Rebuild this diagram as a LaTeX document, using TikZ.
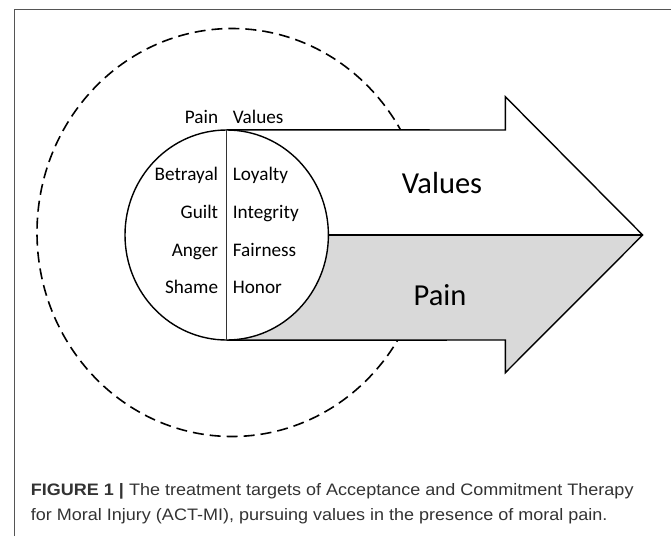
\documentclass[tikz,border=0pt]{standalone}
\usepackage{fontspec}
\setmainfont{Carlito}
\newfontfamily\capfont[FakeStretch=1.085]{Liberation Sans}
\usetikzlibrary{shapes.geometric}
\definecolor{painfill}{HTML}{D9D9D9}
\definecolor{captxt}{HTML}{333333}
\definecolor{framecol}{HTML}{555555}
\tikzset{
  item/.style={inner sep=0pt, font=\fontsize{19.2}{19.2}\selectfont},
  biglabel/.style={inner sep=0pt, font=\fontsize{30.5}{30.5}\selectfont},
  captionline/.style={inner sep=0pt, anchor=base west, text=captxt, font=\capfont\fontsize{16.6}{16.6}\selectfont},
  outline/.style={line width=1.4pt, line join=miter},
}
\begin{document}
\begin{tikzpicture}[x=1pt,y=-1pt]
\useasboundingbox (0,0) rectangle (671,536);
% frame (only left and top edges are inside the picture)
\draw[framecol, line width=1pt] (14.3,536) -- (14.3,9) -- (671,9);
% dashed outer ellipse
\node (halo) [ellipse, draw, dashed, dash pattern=on 11pt off 6pt, line width=1.6pt, inner sep=0pt,
  minimum width=390pt, minimum height=408pt] at (232,232.5) {};
% circle geometry (node drawn later)
\node (core) [ellipse, inner sep=0pt, minimum width=203.4pt, minimum height=210pt] at (226.7,235) {};
% arrow points
\coordinate (shaftTR) at (505.3,130);
\coordinate (headT) at (505.3,96.7);
\coordinate (tip) at (642.7,235);
\coordinate (headB) at (505.3,372.7);
\coordinate (shaftBR) at (505.3,340);
% white arrow body
\fill[white] (core.north) -- (shaftTR) -- (headT) -- (tip) -- (headB) -- (shaftBR) -- (core.south) -- cycle;
% grey lower half
\fill[painfill] (core.center) -- (tip) -- (headB) -- (shaftBR) -- (core.south) -- cycle;
% arrow outline
\draw[outline] (core.north) -- (shaftTR) -- (headT) -- (tip) -- (headB) -- (shaftBR) -- (core.south);
% circle
\node (corec) [ellipse, draw, fill=white, line width=1.4pt, inner sep=0pt, minimum width=203.4pt, minimum height=210pt] at (core.center) {};
% divider
\draw[line width=0.9pt, black!80] (corec.north) -- (corec.south);
% middle line
\draw[line width=2.4pt] (corec.east) -- (tip);
% labels above circle
\node (lpain) [item, anchor=base east] at (218.3,123.3) {Pain};
\node (lval) [item, anchor=base west] at (232.7,123.3) {Values};
% items
\node (b) [item, anchor=base east] at (218.3,180.7) {Betrayal};
\node (g) [item, anchor=base east] at (218.3,218.3) {Guilt};
\node (a) [item, anchor=base east] at (218.3,256) {Anger};
\node (s) [item, anchor=base east] at (218.3,293.5) {Shame};
\node (l) [item, anchor=base west] at (232.7,180.7) {Loyalty};
\node (i) [item, anchor=base west] at (232.7,218.3) {Integrity};
\node (f) [item, anchor=base west] at (232.7,256) {Fairness};
\node (h) [item, anchor=base west] at (232.7,293.5) {Honor};
% big labels
\node (bigV) [biglabel, anchor=base] at (442,193.3) {Values};
\node (bigP) [biglabel, anchor=base] at (440,305) {Pain};
% caption
\node (cap1) [captionline] at (30.7,495) {\textbf{FIGURE 1 |} The treatment targets of Acceptance and Commitment Therapy};
\node (cap2) [captionline] at (30.7,520) {for Moral Injury (ACT-MI), pursuing values in the presence of moral pain.};
\end{tikzpicture}
\end{document}
